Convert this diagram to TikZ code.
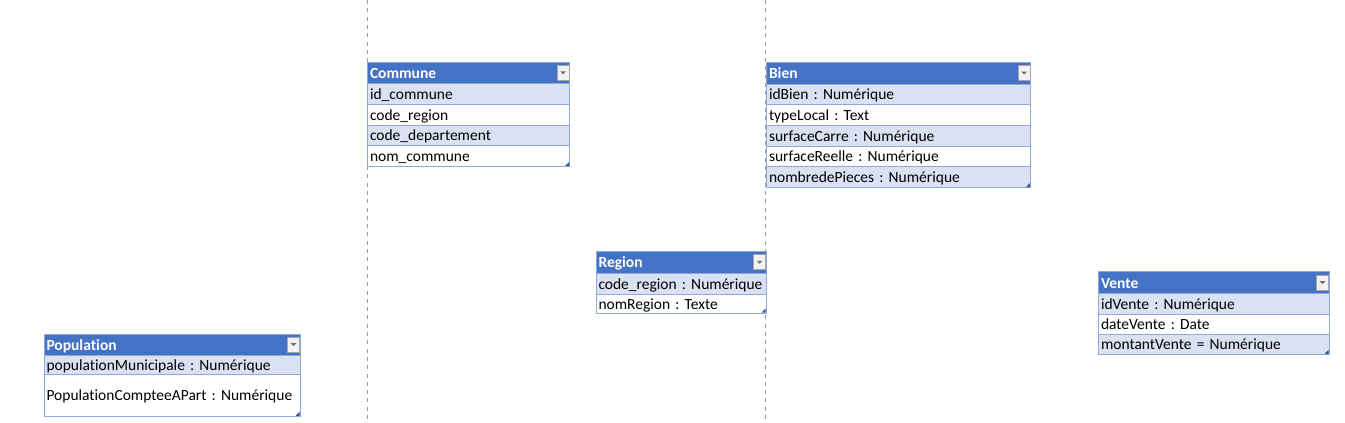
\documentclass[tikz,border=0pt]{standalone}
\usepackage{fontspec}
\setmainfont{Carlito}[Ligatures=NoCommon]
\frenchspacing
\definecolor{xlhead}{HTML}{4472C4}
\definecolor{xlband}{HTML}{D9E1F2}
\definecolor{xlline}{HTML}{8EA9DB}
\definecolor{xlgrip}{HTML}{2F5597}
\definecolor{xlbtn}{HTML}{F2F2F2}
\definecolor{xlbtnline}{HTML}{A6A6A6}
\definecolor{xlarrow}{HTML}{707070}
\definecolor{guide}{HTML}{A0A0A0}
\tikzset{
  cell/.style={anchor=north west, draw=xlline, line width=1pt, inner xsep=2.5pt, inner ysep=0pt,
    align=left, text height=13pt, text depth=2pt, font=\fontsize{15.5}{17}\selectfont\frenchspacing, text=black},
  bandcell/.style={cell, fill=xlband},
  plaincell/.style={cell, fill=white},
  headcell/.style={cell, fill=xlhead, text=white, font=\fontsize{15.5}{17}\selectfont\bfseries},
  ddbtn/.style={draw=xlbtnline, fill=xlbtn, line width=0.8pt, minimum width=12pt, minimum height=15pt, inner sep=0pt},
  ddarrow/.style={fill=xlarrow},
  grip/.style={fill=xlgrip},
  guideline/.style={draw=guide, line width=1pt, dash pattern=on 4pt off 4.3pt},
}
\newcommand\xlcell[7]{\pgfmathsetmacro\xltw{#5-5}%
  \node[#1, minimum width=#5pt, minimum height=#6pt, text width=\xltw pt] (#2) at (#3,#4) {#7};}
\newcommand\xlbutton[1]{%
  \node[ddbtn] (#1btn) at ([xshift=-7pt]#1.east) {};
  \fill[ddarrow] ([shift={(-3,-1.5)}]#1btn.center) -- ++(6,0) -- ++(-3,3) -- cycle;}
\newcommand\xlgrip[1]{%
  \fill[grip] ([shift={(-1,-1)}]#1.south east) -- ++(-4,0) -- ++(4,-4) -- cycle;}
\begin{document}
\begin{tikzpicture}[x=1pt,y=-1pt]
\useasboundingbox (0,0) rectangle (1345,423);
\fill[white] (0,0) rectangle (1345,423);
% guide lines
\coordinate (g1t) at (367.5,0); \coordinate (g1b) at (367.5,423);
\coordinate (g2t) at (765.5,0); \coordinate (g2b) at (765.5,423);
\draw[guideline] (g1t) -- (g1b);
\draw[guideline] (g2t) -- (g2b);
% Commune
\xlcell{headcell}{ch}{367}{61.5}{202}{21.5}{Commune}
\xlcell{bandcell}{c1}{367}{83}{202}{20.75}{id\_commune}
\xlcell{plaincell}{c2}{367}{103.75}{202}{20.75}{code\_region}
\xlcell{bandcell}{c3}{367}{124.5}{202}{20.75}{code\_departement}
\xlcell{plaincell}{c4}{367}{145.25}{202}{20.75}{nom\_commune}
\xlbutton{ch}
\xlgrip{c4}
% Bien
\xlcell{headcell}{bh}{766}{61.5}{264}{22}{Bien}
\xlcell{bandcell}{b1}{766}{83.5}{264}{20.7}{idBien : Numérique}
\xlcell{plaincell}{b2}{766}{104.2}{264}{20.7}{typeLocal : Text}
\xlcell{bandcell}{b3}{766}{124.9}{264}{20.7}{surfaceCarre : Numérique}
\xlcell{plaincell}{b4}{766}{145.6}{264}{20.7}{surfaceReelle : Numérique}
\xlcell{bandcell}{b5}{766}{166.3}{264}{20.7}{nombredePieces : Numérique}
\xlbutton{bh}
\xlgrip{b5}
% Region
\xlcell{headcell}{rh}{595.5}{250.5}{170}{22.5}{Region}
\xlcell{bandcell}{r1}{595.5}{273}{170}{21}{code\_region : Numérique}
\xlcell{plaincell}{r2}{595.5}{294}{170}{18.5}{nomRegion : Texte}
\xlbutton{rh}
\xlgrip{r2}
% Vente
\xlcell{headcell}{vh}{1098}{271}{230.5}{22.3}{Vente}
\xlcell{bandcell}{v1}{1098}{293.3}{230.5}{20.2}{idVente : Numérique}
\xlcell{plaincell}{v2}{1098}{313.5}{230.5}{20.2}{dateVente : Date}
\xlcell{bandcell}{v3}{1098}{333.7}{230.5}{20.2}{montantVente = Numérique}
\xlbutton{vh}
\xlgrip{v3}
% Population
\xlcell{headcell}{ph}{43.5}{333.5}{256}{21}{Population}
\xlcell{bandcell}{p1}{43.5}{354.5}{256}{19.3}{populationMunicipale : Numérique}
\xlcell{plaincell}{p2}{43.5}{373.8}{256}{42}{PopulationCompteeAPart : Numérique}
\xlbutton{ph}
\xlgrip{p2}
\end{tikzpicture}
\end{document}
